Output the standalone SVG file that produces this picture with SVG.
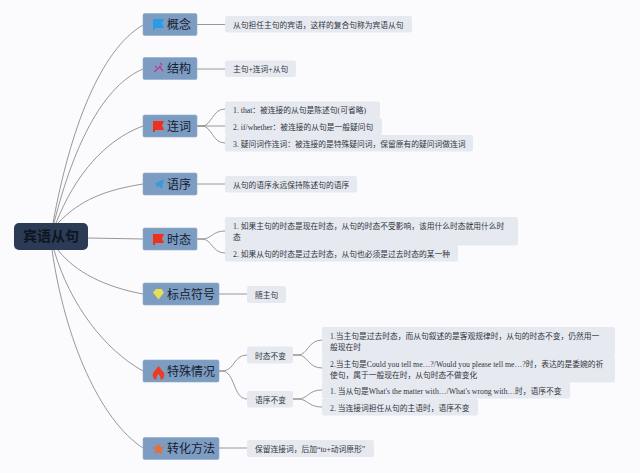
<svg xmlns="http://www.w3.org/2000/svg" width="640" height="473" viewBox="0 0 640 473">
<style>
text{font-family:"Liberation Serif","Noto Sans CJK SC",serif;fill:#30343c}
.l{font-size:7.750px}
.m{font-family:"Noto Sans CJK SC","Liberation Sans",sans-serif;font-size:12px;fill:#16202f}
.r{font-family:"Noto Sans CJK SC","Liberation Sans",sans-serif;font-size:14px;font-weight:700;fill:#0d1522}
.n{fill:#7d9cc2;stroke:#8fb0c8;stroke-width:.6}
.b{fill:#e6e9f0}
#connectors path{fill:none;stroke:#8c8c8c;stroke-width:.9}
</style>
<rect width="640" height="473" fill="#fbfbfd"/>
<g id="connectors">
<path d="M53 223C70 130 100 50 143 25"/>
<path d="M54 223C75 140 105 85 143 69"/>
<path d="M56 223C75 175 105 140 143 126"/>
<path d="M58 223C80 200 105 190 143 184"/>
<path d="M88 238L143 239"/>
<path d="M58 250C75 272 105 287 143 294"/>
<path d="M54 250C70 305 105 350 143 371"/>
<path d="M52 250C65 340 100 420 143 448"/>
<path d="M197 24.500H225"/>
<path d="M197 69H225"/>
<path d="M197 126H202C212 126 212 109 225 109"/>
<path d="M197 126H225"/>
<path d="M197 126H202C212 126 212 143 225 143"/>
<path d="M197 184H225"/>
<path d="M197 239H202C212 239 212 231 225 231"/>
<path d="M197 239H202C212 239 212 253 225 253"/>
<path d="M219 294H247"/>
<path d="M219 371H222C235 371 233 355 247 355"/>
<path d="M219 371H222C235 371 233 399 247 399"/>
<path d="M293 355H298C308 355 308 340 322 340"/>
<path d="M293 355H298C308 355 308 368 322 368"/>
<path d="M293 399H298C308 399 308 390 322 390"/>
<path d="M293 399H298C308 399 308 407 322 407"/>
<path d="M219 448H247"/>
</g>
<g id="root"><rect x="14" y="223" width="74" height="27" rx="5" fill="#2c3b55"/><text class="r" x="51" y="241" text-anchor="middle">宾语从句</text></g>

<g id="n1"><rect class="n" x="143" y="13.500" width="54" height="22" rx="1.500"/><path d="M153 19H164L162 23.500L164 28H155V30H153Z" fill="#2b9be6"/><text class="m" x="167" y="29">概念</text></g>
<g id="n2"><rect class="n" x="143" y="57.500" width="54" height="22" rx="1.500"/><path d="M154 72L161 66M159 66L163 71M155 66L157 68M160 63L162 65" stroke="#c43a8c" stroke-width="1.300" fill="none"/><text class="m" x="167" y="73">结构</text></g>
<g id="n3"><rect class="n" x="143" y="115" width="54" height="22" rx="1.500"/><path d="M153 121H164L162 125.500L164 130H155V132H153Z" fill="#f0301e"/><text class="m" x="167" y="131">连词</text></g>
<g id="n4"><rect class="n" x="143" y="173" width="54" height="22" rx="1.500"/><path d="M154 184L164 179L162 189L159 186L157 188V185Z" fill="#3a9ad9"/><text class="m" x="167" y="189">语序</text></g>
<g id="n5"><rect class="n" x="143" y="228" width="54" height="22" rx="1.500"/><path d="M153 234H164L162 238.500L164 243H155V245H153Z" fill="#f0301e"/><text class="m" x="167" y="244">时态</text></g>
<g id="n6"><rect class="n" x="143" y="283" width="76" height="22" rx="1.500"/><path d="M156 289H161.500L164 292.500L158.500 299.500L153 292.500Z" fill="#e6df55"/><text class="m" x="167" y="299">标点符号</text></g>
<g id="n7"><rect class="n" x="143" y="360" width="76" height="22" rx="1.500"/><path d="M158.500 366L164 373C165 377 163 379 161 380L160 376L158.500 374L157 376L156 380C154 379 152 377 153 373Z" fill="#ee3b24"/><text class="m" x="167" y="376">特殊情况</text></g>
<g id="n8"><rect class="n" x="143" y="437.500" width="76" height="22" rx="1.500"/><path d="M158.500 443L160.300 446.800L164.500 447.300L161.400 450.100L162.200 454.300L158.500 452.200L154.800 454.300L155.600 450.100L152.500 447.300L156.700 446.800Z" fill="#e2703a"/><text class="m" x="167" y="453">转化方法</text></g>

<g id="t1"><rect class="b" x="225" y="16" width="187" height="16.500" rx="2"/><text class="l" x="233" y="28">从句担任主句的宾语，这样的复合句称为宾语从句</text></g>
<g id="t2"><rect class="b" x="225" y="60.500" width="71" height="16.500" rx="2"/><text class="l" x="233" y="72">主句+连词+从句</text></g>
<g id="t3"><rect class="b" x="225" y="101.500" width="155" height="17" rx="2"/><text class="l" x="233" y="113">1. that：被连接的从句是陈述句(可省略)</text></g>
<g id="t4"><rect class="b" x="225" y="118" width="157" height="17" rx="2"/><text class="l" x="233" y="130">2. if/whether：被连接的从句是一般疑问句</text></g>
<g id="t5"><rect class="b" x="225" y="135" width="248" height="16.500" rx="2"/><text class="l" x="233" y="146.500">3. 疑问词作连词：被连接的是特殊疑问词，保留原有的疑问词做连词</text></g>
<g id="t6"><rect class="b" x="225" y="176" width="132" height="16.500" rx="2"/><text class="l" x="233" y="188">从句的语序永远保持陈述句的语序</text></g>
<g id="t7"><rect class="b" x="225" y="217" width="293" height="28.500" rx="2"/><text class="l" x="233" y="229">1. 如果主句的时态是现在时态，从句的时态不受影响，该用什么时态就用什么时</text><text class="l" x="233" y="240">态</text></g>
<g id="t8"><rect class="b" x="225" y="245" width="233" height="16.500" rx="2"/><text class="l" x="233" y="257">2. 如果从句的时态是过去时态，从句也必须是过去时态的某一种</text></g>
<g id="t9"><rect class="b" x="247" y="286" width="39" height="17" rx="2"/><text class="l" x="255" y="298">随主句</text></g>
<g id="t10"><rect class="b" x="247" y="346.500" width="46" height="17" rx="2"/><text class="l" x="255" y="358.500">时态不变</text></g>
<g id="t11"><rect class="b" x="247" y="391" width="46" height="16.500" rx="2"/><text class="l" x="255" y="403">语序不变</text></g>
<g id="t12"><rect class="b" x="322" y="327" width="293" height="28.500" rx="2"/><text class="l" x="330" y="339">1.当主句是过去时态，而从句叙述的是客观规律时，从句的时态不变，仍然用一</text><text class="l" x="330" y="350">般现在时</text></g>
<g id="t13"><rect class="b" x="322" y="355" width="293" height="27.500" rx="2"/><text class="l" x="330" y="367">2.当主句是Could you tell me…?/Would you please tell me…?时，表达的是委婉的祈</text><text class="l" x="330" y="378">使句，属于一般现在时，从句时态不做变化</text></g>
<g id="t14"><rect class="b" x="322" y="382" width="248" height="16.500" rx="2"/><text class="l" x="330" y="394">1. 当从句是What's the matter with…/What's wrong with…时，语序不变</text></g>
<g id="t15"><rect class="b" x="322" y="398.500" width="156" height="17" rx="2"/><text class="l" x="330" y="411">2. 当连接词担任从句的主语时，语序不变</text></g>
<g id="t16"><rect class="b" x="247" y="440" width="127" height="17" rx="2"/><text class="l" x="255" y="452">保留连接词，后加“to+动词原形”</text></g>
</svg>
